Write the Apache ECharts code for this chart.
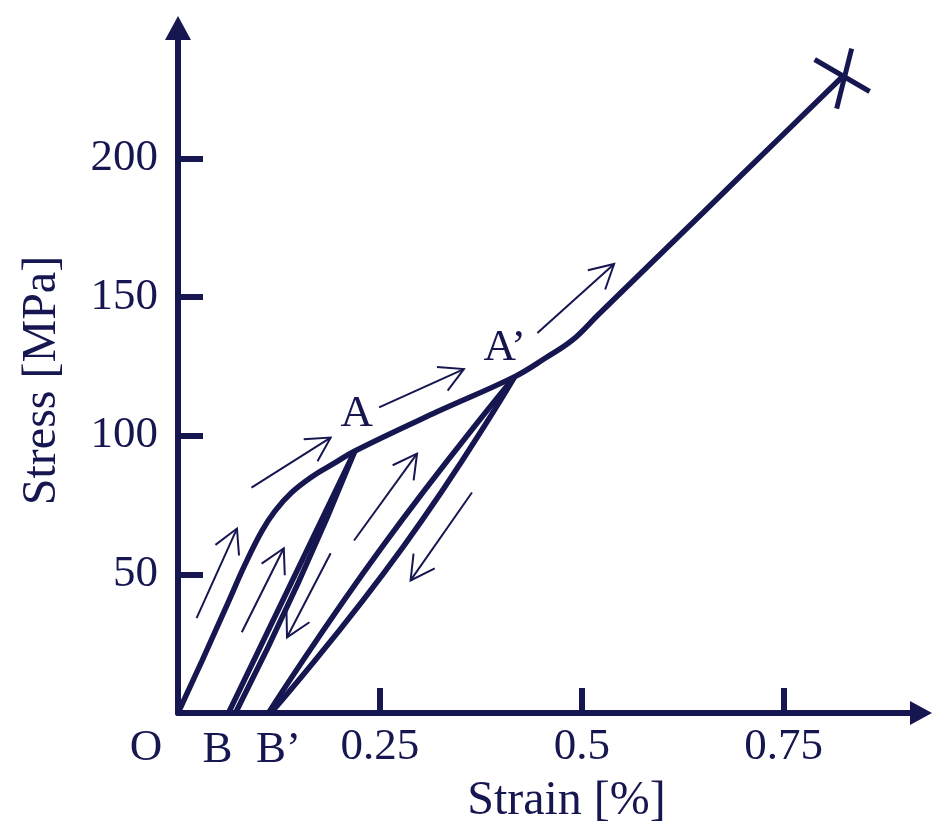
<!DOCTYPE html>
<html>
<head>
<meta charset="utf-8">
<script src="https://cdn.jsdelivr.net/npm/echarts@6/dist/echarts.min.js"></script>
<style>
html, body { margin: 0; padding: 0; background: #fff; }
#main { width: 933px; height: 830px; }
</style>
</head>
<body>
<div id="main"></div>
<script>
// 数据（应变 %，应力 MPa）
var loadingCurve = [[0, 0], [0.03, 19], [0.0623, 40], [0.0829, 53.5], [0.1036, 65.5],
    [0.12, 72.8], [0.1407, 79.5], [0.1658, 85.2], [0.192, 89.8], [0.219, 94.5], [0.32, 108.5],
    [0.417, 121.3], [0.455, 128], [0.489, 134.6], [0.52, 143.5], [0.6, 166.2], [0.7, 194.6],
    [0.823, 229.5]];
var loop1Unload = [[0.219, 94.5], [0.0625, 0]];
var loop1Reload = [[0.0712, 0], [0.149, 47], [0.219, 94.5]];
var loop2Reload = [[0.112, 0], [0.253, 60], [0.417, 121.3]];
var loop2Unload = [[0.417, 121.3], [0.279, 60], [0.115, 0]];
var fracture = [[0.823, 229.5]];
// 箭头：起点 x, y -> 终点 x, y
var arrows = [
    [0.023, 34.2, 0.073, 66.5],
    [0.079, 29.1, 0.131, 59.4],
    [0.189, 57.6, 0.135, 27.3],
    [0.091, 81.3, 0.189, 99.3],
    [0.218, 62.2, 0.296, 93.5],
    [0.364, 79.5, 0.288, 47.8],
    [0.249, 110.2, 0.354, 124],
    [0.445, 137, 0.540, 161.9]
];
var pointNames = ['O', 'B', 'B’', 'A', 'A’'];
var pointX = [0, 0.0625, 0.112, 0.219, 0.417];
var pointY = [0, 0, 0, 94.5, 121.3];
var xTicks = [0.25, 0.5, 0.75];
var yTicks = [50, 100, 150, 200];

var ink = '#161650';
var serif = '"Liberation Serif", "Times New Roman", serif';
var labelOffsets = [[-32, 35], [-11, 37], [10, 37], [2, -37], [-10, -28]];

var myChart = echarts.init(document.getElementById('main'));

function curve(data, smooth) {
    return {
        type: 'line', data: data, smooth: smooth,
        showSymbol: false, symbol: 'none', silent: true,
        lineStyle: { color: ink, width: 5.5 }
    };
}

option = {
    backgroundColor: '#fff',
    animation: false,
    grid: { left: 178, top: 28, width: 743, height: 685 },
    xAxis: {
        type: 'value', min: 0, max: 0.92,
        name: 'Strain [%]', nameLocation: 'middle', nameGap: 64,
        nameTextStyle: { fontFamily: serif, fontSize: 48, color: ink, padding: [0, 0, 0, 34] },
        axisLine: { lineStyle: { color: ink, width: 6 }, symbol: ['none', 'triangle'], symbolSize: [24, 22] },
        axisTick: { inside: true, length: 25, lineStyle: { color: ink, width: 6 }, customValues: xTicks },
        axisLabel: { margin: 12, fontFamily: serif, fontSize: 45, color: ink, customValues: xTicks },
        splitLine: { show: false }
    },
    yAxis: {
        type: 'value', min: 0, max: 247,
        name: 'Stress [MPa]', nameLocation: 'middle', nameGap: 112,
        nameTextStyle: { fontFamily: serif, fontSize: 48, color: ink, padding: [0, 20, 0, 0] },
        axisLine: { lineStyle: { color: ink, width: 6 }, symbol: ['none', 'triangle'], symbolSize: [26, 24] },
        axisTick: { inside: true, length: 25, lineStyle: { color: ink, width: 6 }, customValues: yTicks },
        axisLabel: { margin: 20, fontFamily: serif, fontSize: 45, color: ink, customValues: yTicks },
        splitLine: { show: false }
    },
    series: [
        curve(loadingCurve, 0.4),
        curve(loop1Unload, false),
        curve(loop1Reload, 0.5),
        curve(loop2Reload, 0.5),
        curve(loop2Unload, 0.5),
        {
            type: 'custom', silent: true,
            data: arrows,
            encode: { x: [0, 2], y: [1, 3] },
            renderItem: function (params, api) {
                var p0 = api.coord([api.value(0), api.value(1)]);
                var p1 = api.coord([api.value(2), api.value(3)]);
                var ang = Math.atan2(p1[1] - p0[1], p1[0] - p0[0]);
                var L = 27, w = 0.5;
                var h1 = [p1[0] - L * Math.cos(ang - w), p1[1] - L * Math.sin(ang - w)];
                var h2 = [p1[0] - L * Math.cos(ang + w), p1[1] - L * Math.sin(ang + w)];
                return {
                    type: 'group',
                    children: [
                        { type: 'line', shape: { x1: p0[0], y1: p0[1], x2: p1[0], y2: p1[1] }, style: { stroke: ink, lineWidth: 2 } },
                        { type: 'polyline', shape: { points: [h1, p1, h2] }, style: { stroke: ink, lineWidth: 2, fill: null } }
                    ]
                };
            }
        },
        {
            type: 'custom', silent: true,
            data: fracture,
            renderItem: function (params, api) {
                var c = api.coord([api.value(0), api.value(1)]);
                return {
                    type: 'group',
                    children: [
                        { type: 'line', shape: { x1: c[0] - 28, y1: c[1] - 17, x2: c[0] + 27, y2: c[1] + 15 }, style: { stroke: ink, lineWidth: 5 } },
                        { type: 'line', shape: { x1: c[0] + 9, y1: c[1] - 28, x2: c[0] - 6, y2: c[1] + 32 }, style: { stroke: ink, lineWidth: 5 } }
                    ]
                };
            }
        },
        {
            type: 'scatter', symbolSize: 0, silent: true,
            itemStyle: { opacity: 1 },
            data: pointNames.map(function (n, i) {
                return {
                    value: [pointX[i], pointY[i]], name: n,
                    label: {
                        show: true, formatter: n, position: 'inside', offset: labelOffsets[i],
                        fontFamily: serif, fontSize: 45, color: ink, opacity: 1
                    }
                };
            })
        }
    ]
};
myChart.setOption(option);
</script>
</body>
</html>
